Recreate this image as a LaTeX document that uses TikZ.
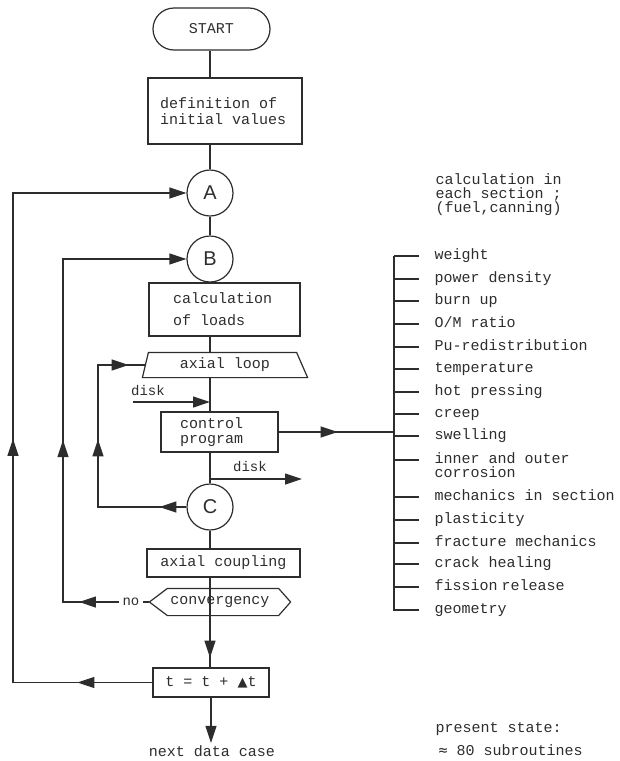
\documentclass[tikz,border=0pt]{standalone}
\usepackage{fontspec}
\setmainfont[WordSpace={1,0,0}]{Liberation Mono}
\newfontfamily\sansf{Liberation Sans}
\newfontfamily\djs{DejaVu Sans}
\newfontfamily\djm{DejaVu Sans Mono}
\usetikzlibrary{arrows.meta,decorations.markings}
\definecolor{ink}{RGB}{45,45,45}
\newcommand{\msp}{\hspace*{9pt}}
\begin{document}
\begin{tikzpicture}[x=1pt,y=-1pt, line width=1.2pt, color=ink,
  >={Triangle[length=17pt,width=11pt]},
  every node/.style={font=\fontsize{15}{15}\selectfont},
  box/.style={draw, rectangle, inner sep=0pt},
  circ/.style={draw, circle, minimum size=46pt, inner sep=0pt, font=\sansf\fontsize{20}{20}\selectfont},
  marrow/.style={postaction={decorate,decoration={markings,mark=at position #1 with {\arrow{>}}}}},
  item/.style={anchor=base west, inner sep=0pt}]
\useasboundingbox (0,0) rectangle (619,761);

% main column
\node[draw, rounded corners=21pt, minimum width=117pt, minimum height=42pt, inner sep=0pt] (start) at (211.5,29) {START};
\node[box, minimum width=154pt, minimum height=66pt, text width=130pt, align=left, font=\fontsize{15}{16}\selectfont] (def) at (225,111) {definition\msp of\\initial\msp values};
\node[circ] (A) at (210,193) {A};
\node[circ] (B) at (210,259) {B};
\node[box, minimum width=151pt, minimum height=53pt, text width=103pt, align=left, font=\fontsize{15}{22}\selectfont] (calc) at (224.5,309.5) {calculation\\of\msp loads};
\node[minimum width=164pt, minimum height=24pt, inner sep=0pt] (loop) at (225,365) {axial loop};
\draw (loop.south west) -- ([xshift=6pt]loop.north west) -- ([xshift=-11pt]loop.north east) -- (loop.south east) -- cycle;
\node[box, minimum width=117pt, minimum height=40pt, text width=79pt, align=left, font=\fontsize{15}{15}\selectfont] (ctrl) at (219.5,432) {control\\program};
\node[circ] (C) at (210,507) {C};
\node[box, minimum width=153pt, minimum height=28pt] (coup) at (223.5,563) {axial coupling};
\node[minimum width=140pt, minimum height=26pt, inner sep=0pt] (conv) at (220,602) {convergency};
\draw (conv.west) -- ([xshift=18pt]conv.north west) -- ([xshift=-12pt]conv.north east) -- (conv.east) -- ([xshift=-12pt]conv.south east) -- ([xshift=18pt]conv.south west) -- cycle;
\node[box, minimum width=116pt, minimum height=29pt] (tb) at (211,682.5) {t = t + {\djs\fontsize{13}{13}\selectfont ▲}t};
\node[inner sep=2pt] (next) at (212,751) {next data case};
\node[inner sep=3pt, font=\fontsize{14}{14}\selectfont] (no) at (131,602) {no};
\node[font=\fontsize{14}{14}\selectfont] (disk1) at (148,391) {disk};
\node[font=\fontsize{14}{14}\selectfont] (disk2) at (250,467) {disk};

% main line
\draw (start.south -| A) -- (A |- def.north);
\draw (A |- def.south) -- (A.north);
\draw (A.south) -- (B.north);
\draw (B.south) -- (B |- calc.north);
\draw (B |- calc.south) -- (B |- loop.north);
\draw (B |- loop.south) -- (B |- ctrl.north);
\draw (B |- ctrl.south) -- (C.north);
\draw (C.south) -- (C |- coup.north);
\draw (C |- coup.south) -- (C |- conv.south);
\draw[marrow=42pt] (C |- conv.south) -- (C |- tb.north);
\draw[->] (tb.south) -- (tb.south |- next.north);

% loops
\coordinate (a1) at (13,682.5);
\coordinate (a2) at (13,193);
\draw[marrow=75pt, marrow=383pt, ->] (tb.west) -- (a1) -- (a2) -- (A.west);
\coordinate (b1) at (63,602);
\coordinate (b2) at (63,259);
\draw (conv.west) -- (no.east);
\draw[marrow=40pt, marrow=218pt, ->] (no.west) -- (b1) -- (b2) -- (B.west);
\coordinate (c1) at (98,507);
\coordinate (c2) at (98,365);
\draw[marrow=27pt, marrow=156pt, marrow=261pt] (C.west) -- (c1) -- (c2) -- ([xshift=3pt]loop.west);

% disk
\coordinate (d1) at (133,402);
\draw[->] (d1) -- (d1 -| B);
\coordinate (d2) at (302,479);
\draw[->] (d2 -| B) -- (d2);

% control to bracket
\coordinate (br) at (394,432);
\draw[marrow=59pt] (ctrl.east) -- (br);
\draw (394,256) -- (394,610) -- (419,610);

\foreach \y/\t in {255/weight, 278/power density, 300/burn up, 323/O\slash M ratio, 346/Pu-redistribution, 368/temperature, 391/hot pressing, 413/creep, 435/swelling, 496/mechanics in section, 519/plasticity, 542/fracture mechanics, 563/crack healing, 586/fission{\kern-5pt} release}
{
  \node[item] at (434,\y+4) {\t};
  \draw (394,\y+1) -- (419,\y+1);
}
\node[item] (geo) at (434,613) {geometry};
\node[item] (inner) at (434,463) {inner and outer};
\node[item] (corr) at (434,477) {corrosion};
\draw (394,460) -- (419,460);

\node[item, align=left, font=\fontsize{15}{14}\selectfont] (hd) at (435,212) {calculation in\\each section ;\\(fuel,canning)};
\node[item] (ps) at (435,732) {present state:};
\node[item] (sr) at (438,755) {{\djm ≈} 80 subroutines};
\end{tikzpicture}
\end{document}
